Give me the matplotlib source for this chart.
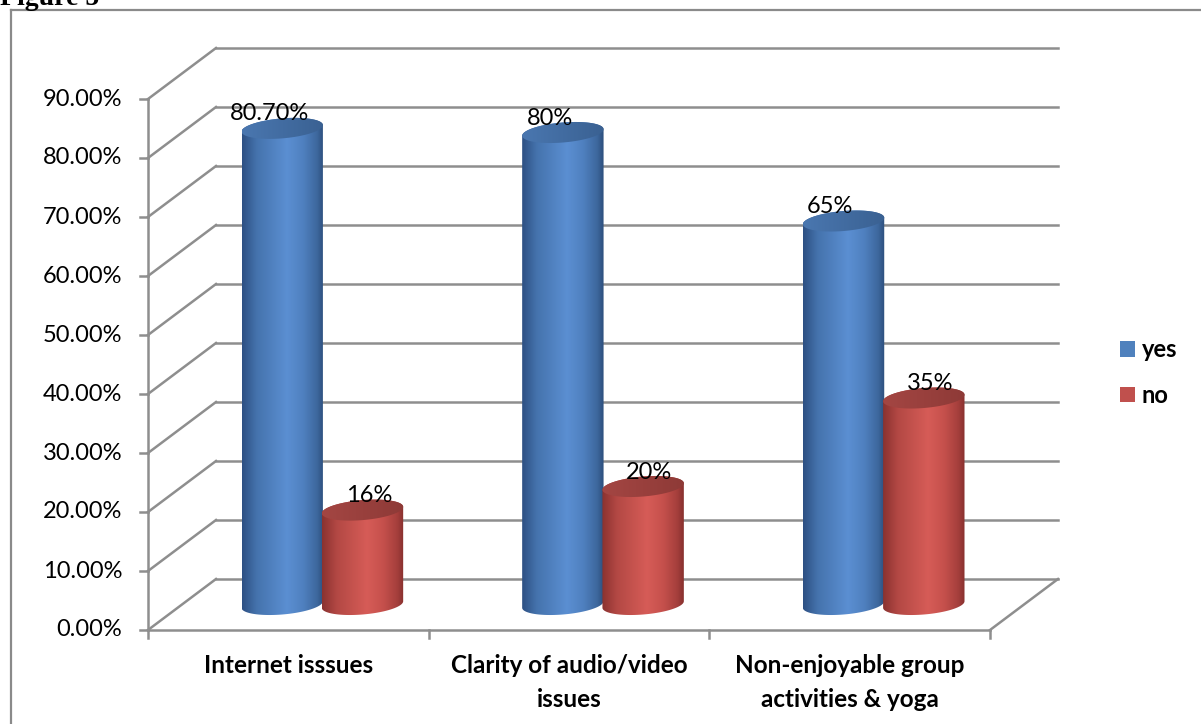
import numpy as np
import matplotlib.pyplot as plt
from matplotlib.colors import LinearSegmentedColormap
from matplotlib.patches import Polygon, Patch
from matplotlib.lines import Line2D

plt.rcParams['font.family'] = ['Lato', 'DejaVu Sans']

categories = ["Internet isssues", "Clarity of audio/video\nissues",
              "Non-enjoyable group\nactivities & yoga"]
yes_vals = [80.7, 80, 65]
no_vals = [16, 20, 35]
series_names = ["yes", "no"]
y_ticks = list(range(0, 100, 10))

W, H = 1201, 724
fig = plt.figure(figsize=(W / 100, H / 100), dpi=100)

# front plane of the box, in pixels
x0, x1, y0, y1 = 148, 990, 630, 99
ax = fig.add_axes([x0 / W, 1 - y0 / H, (x1 - x0) / W, (y0 - y1) / H])
ax.axis('off')

px_x = (x1 - x0) / 3      # pixels per category
px_y = (y0 - y1) / 90     # pixels per percent
DX = 68 / px_x            # depth offset of back wall
DY = 51 / px_y

grid_c = '#8e8e8e'
glw = 1.8
fs = 17

# back wall + left side wall
for v in y_ticks:
    ax.plot([DX, 3 + DX], [v + DY, v + DY], color=grid_c, lw=glw, clip_on=False, zorder=1)
    ax.plot([0, DX], [v, v + DY], color=grid_c, lw=glw, clip_on=False, zorder=1)
    ax.plot([-8 / px_x, 0], [v, v], color=grid_c, lw=glw, clip_on=False, zorder=1)
    ax.annotate(f"{v:.2f}%", xy=(0, v), xytext=(-18.5, 0), textcoords='offset points',
                ha='right', va='center', fontsize=fs, color='black')

# floor edges and front axes
ax.plot([0, 0], [0, 90], color=grid_c, lw=glw, clip_on=False, zorder=1)
ax.plot([0, 3], [0, 0], color=grid_c, lw=glw, clip_on=False, zorder=1)
ax.plot([3, 3 + DX], [0, DY], color=grid_c, lw=glw, clip_on=False, zorder=1)
for i in range(4):
    ax.plot([i, i], [0, -8 / px_y], color=grid_c, lw=glw, clip_on=False, zorder=1)

blue_body = LinearSegmentedColormap.from_list('bb', [
    (0.0, '#2d5083'), (0.18, '#4573ad'), (0.55, '#5b8fd2'),
    (0.75, '#4f80bf'), (0.92, '#3d679d'), (1.0, '#2c4e7c')])
red_body = LinearSegmentedColormap.from_list('rb', [
    (0.0, '#8a3230'), (0.18, '#b34844'), (0.55, '#d65c57'),
    (0.75, '#c5504c'), (0.92, '#a53f3c'), (1.0, '#87302e')])
blue_cap = LinearSegmentedColormap.from_list('bc', ['#4a77b0', '#3a6192'])
red_cap = LinearSegmentedColormap.from_list('rc', ['#a44643', '#8e3a37'])

bar_w = 0.29
offsets = [-0.143, 0.143]
label_dx = [-9.5, 4.5]
b = 10 / px_y                    # half height of the ellipses
k = 0.08 * px_x / px_y           # slight tilt of the ellipses
base = DY / 2
grad = np.linspace(0, 1, 256)[None, :]


def cylinder(cx, val, body_cmap, cap_cmap, z):
    a = bar_w / 2
    top = base + val
    t = np.linspace(np.pi, 2 * np.pi, 80)
    bx = cx + a * np.cos(t)
    by = base + b * np.sin(t) + k * a * np.cos(t)
    t2 = np.linspace(0, np.pi, 80)
    tx = cx + a * np.cos(t2)
    ty = top + b * np.sin(t2) + k * a * np.cos(t2)
    body = Polygon(np.column_stack([np.r_[bx, tx], np.r_[by, ty]]), closed=True,
                   facecolor='none', edgecolor='none', zorder=z)
    ax.add_patch(body)
    im = ax.imshow(grad, cmap=body_cmap, extent=[cx - a, cx + a, base - b - k * a, top + b + k * a],
                   aspect='auto', zorder=z, interpolation='bilinear')
    im.set_clip_path(body)
    t3 = np.linspace(0, 2 * np.pi, 160)
    cap = Polygon(np.column_stack([cx + a * np.cos(t3), top + b * np.sin(t3) + k * a * np.cos(t3)]),
                  closed=True, facecolor='none', edgecolor='none', zorder=z + 0.1)
    ax.add_patch(cap)
    im2 = ax.imshow(grad, cmap=cap_cmap, extent=[cx - a, cx + a, top - b - k * a, top + b + k * a],
                    aspect='auto', zorder=z + 0.1, interpolation='bilinear')
    im2.set_clip_path(cap)
    return top + b


def pct(v):
    return f"{v:.2f}%" if v % 1 else f"{v:.0f}%"


for i in range(len(categories)):
    for j, (vals, bc, cc) in enumerate([(yes_vals, blue_body, blue_cap), (no_vals, red_body, red_cap)]):
        cx = i + 0.5 + DX / 2 + offsets[j]
        top_edge = cylinder(cx, vals[i], bc, cc, 3 + 2 * i + j)
        ax.annotate(pct(vals[i]), xy=(cx, top_edge), xytext=(label_dx[j], -1.5),
                    textcoords='offset points', ha='center', va='baseline',
                    fontsize=fs, color='black', zorder=20)
    ax.annotate(categories[i], xy=(i + 0.5, 0), xytext=(0, -17.5), textcoords='offset points',
                ha='center', va='top', fontsize=17.5, fontweight='bold', linespacing=1.55)

ax.set_xlim(0, 3)
ax.set_ylim(0, 90)

handles = [Patch(facecolor='#4f81bd'), Patch(facecolor='#c0504d')]
fig.legend(handles, series_names, loc='center left', bbox_to_anchor=(1120 / W, 1 - 372.5 / H),
           frameon=False, borderpad=0, borderaxespad=0, handlelength=0.62, handleheight=0.62,
           handletextpad=0.3, labelspacing=0.95, prop={'weight': 'bold', 'size': fs})

# chart border and caption above it
fig.add_artist(Line2D([11 / W, 11 / W], [0, 1 - 10 / H], color='#8a8a8a', lw=1.6))
fig.add_artist(Line2D([11 / W, 1], [1 - 10 / H, 1 - 10 / H], color='#8a8a8a', lw=1.6))
fig.text(0, 1 - 5 / H, "Figure 5", fontsize=20, fontweight='bold',
         family='Liberation Serif', va='baseline', ha='left')

fig.savefig('out.png', dpi=100)
